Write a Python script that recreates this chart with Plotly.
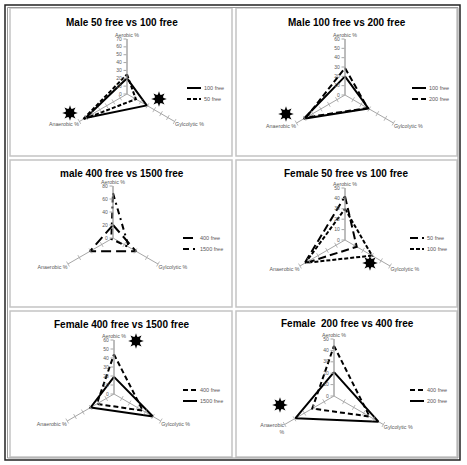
import plotly.graph_objects as go

W, H = 467, 465

categories = ["Aerobic %", "Gylcolytic %", "Anaerobic %"]

titles = [
    "Male 50 free vs 100 free",
    "Male 100 free vs 200 free",
    "male 400 free vs 1500 free",
    "Female 50 free vs 100 free",
    "Female 400 free vs 1500 free",
    "Female  200 free vs 400 free",
]

# series per panel: values in order [Aerobic, Glycolytic, Anaerobic]
p1_names = ["100 free", "50 free"]
p1_a = [20, 29, 61]
p1_b = [25, 13, 65]

p2_names = ["100 free", "200 free"]
p2_a = [20, 29, 51]
p2_b = [29, 28, 48]

p3_names = ["400 free", "1500 free"]
p3_a = [20, 41, 41]
p3_b = [69, 28, 3]

p4_names = ["50 free", "100 free"]
p4_a = [42, 13, 45]
p4_b = [30, 30, 44]

p5_names = ["400 free", "1500 free"]
p5_a = [44, 37, 22]
p5_b = [19, 50, 30]

p6_names = ["400 free", "200 free"]
p6_a = [44, 36, 22]
p6_b = [21, 45, 39]

axis_max = [70, 60, 80, 50, 60, 50]
axis_step = [10, 10, 20, 10, 10, 10]

series = [
    (p1_names, p1_a, p1_b),
    (p2_names, p2_a, p2_b),
    (p3_names, p3_a, p3_b),
    (p4_names, p4_a, p4_b),
    (p5_names, p5_a, p5_b),
    (p6_names, p6_a, p6_b),
]

dashes = [
    ("solid", "4px,2px"),
    ("solid", "6px,3px"),
    ("10px,5px", "6px,4px,2px,4px"),
    ("8px,4px", "4px,2px"),
    ("5px,3px", "solid"),
    ("5px,3px", "solid"),
]

centers = [(127, 94, 55), (345, 95, 56), (113, 238, 52),
           (345, 240, 52), (114, 394, 54), (334, 396, 57)]
title_pos = [(122, 23), (347, 23), (122, 173), (346, 173), (122, 324), (347, 323)]
legend_pos = [(187, 88), (412, 88), (183, 238), (410, 238), (183, 390), (410, 390)]
star_x = [70, 159, 286, 370, 136, 280]
star_y = [113, 99, 114, 263, 341, 405]
panels = [(10, 8, 232, 156), (236, 8, 457, 156),
          (10, 160, 232, 307), (236, 160, 457, 307),
          (10, 311, 232, 457), (236, 311, 457, 457)]


def px(x):
    return x / W


def py(y):
    return 1 - y / H


fig = go.Figure()
layout = dict(width=W, height=H, margin=dict(l=0, r=0, t=0, b=0),
              paper_bgcolor="white", plot_bgcolor="rgba(0,0,0,0)",
              showlegend=False)
shapes = []
annotations = []

grey = "#a6a6a6"
tgrey = "#595959"

for i in range(6):
    pid = "polar" if i == 0 else f"polar{i+1}"
    cx, cy, r = centers[i]
    names, va, vb = series[i]
    da, db = dashes[i]
    for nm, vals, d in ((names[0], va, da), (names[1], vb, db)):
        fig.add_trace(go.Scatterpolar(
            r=vals + [vals[0]], theta=categories + [categories[0]],
            mode="lines", name=nm, subplot=pid,
            line=dict(color="black", width=2, dash=d),
            hoverinfo="skip"))
    ticks = list(range(axis_step[i], axis_max[i] + 1, axis_step[i]))
    for cat, ang in ((categories[1], 30), (categories[2], -30)):
        fig.add_trace(go.Scatterpolar(
            r=ticks, theta=[cat] * len(ticks), mode="markers", subplot=pid,
            marker=dict(symbol="line-ns", size=4, angle=ang,
                        line=dict(color=grey, width=0.8)),
            hoverinfo="skip"))
    ticktext = list(categories)
    if i == 5:
        ticktext[2] = "Anaerobic<br>%"
    layout[pid] = dict(
        domain=dict(x=[px(cx - r), px(cx + r)], y=[py(cy + r), py(cy - r)]),
        bgcolor="rgba(0,0,0,0)",
        radialaxis=dict(range=[0, axis_max[i]], dtick=axis_step[i], angle=90,
                        tickangle=90, side="counterclockwise",
                        showgrid=False, showline=True, linecolor=grey,
                        linewidth=1, ticks="outside", ticklen=3,
                        tickcolor=grey, tickfont=dict(size=5, color=tgrey,
                                                      family="Liberation Sans")),
        angularaxis=dict(rotation=90, direction="clockwise",
                         categoryorder="array", categoryarray=categories,
                         tickmode="array", tickvals=categories, ticktext=ticktext,
                         showgrid=True, gridcolor=grey, gridwidth=1,
                         showline=False, ticks="",
                         tickfont=dict(size=5.3, color=tgrey,
                                       family="Liberation Sans")),
    )
    x0, y0, x1, y1 = panels[i]
    shapes.append(dict(type="rect", xref="paper", yref="paper", layer="below",
                       x0=px(x0), x1=px(x1), y0=py(y1), y1=py(y0),
                       line=dict(color="#c4c4c4", width=1.5)))
    tx, ty = title_pos[i]
    annotations.append(dict(x=px(tx), y=py(ty), xref="paper", yref="paper",
                            xanchor="center", yanchor="middle",
                            text="<b>" + titles[i] + "</b>", showarrow=False,
                            font=dict(size=10, color="black",
                                      family="Liberation Sans")))
    lx, ly = legend_pos[i]
    for k, (nm, d) in enumerate(((names[0], da), (names[1], db))):
        yy = ly + k * 11
        shapes.append(dict(type="line", xref="paper", yref="paper",
                           x0=px(lx), x1=px(lx + 14), y0=py(yy), y1=py(yy),
                           line=dict(color="black", width=2, dash=d)))
        annotations.append(dict(x=px(lx + 15), y=py(yy), xref="paper",
                                yref="paper", text=nm, showarrow=False,
                                xanchor="left", yanchor="middle",
                                font=dict(size=5.5, color=tgrey,
                                          family="Liberation Sans")))

# significance stars on a hidden full-page pixel axis
fig.add_trace(go.Scatter(x=star_x, y=star_y, mode="markers",
                         marker=dict(symbol="star-square", size=10, color="black",
                                     line=dict(width=0)),
                         hoverinfo="skip"))
fig.add_trace(go.Scatter(x=star_x, y=star_y, mode="markers",
                         marker=dict(symbol="star-square", size=10, color="black",
                                     angle=45, line=dict(width=0)),
                         hoverinfo="skip"))
fig.add_trace(go.Scatter(x=star_x, y=star_y, mode="markers",
                         marker=dict(symbol="circle", size=5, color="black"),
                         hoverinfo="skip"))
layout["xaxis"] = dict(domain=[0, 1], range=[0, W], visible=False, fixedrange=True)
layout["yaxis"] = dict(domain=[0, 1], range=[H, 0], visible=False, fixedrange=True)

shapes.append(dict(type="rect", xref="paper", yref="paper", layer="below",
                   x0=px(5), x1=px(460), y0=py(460), y1=py(5),
                   line=dict(color="#222222", width=1.5)))
shapes.append(dict(type="rect", xref="paper", yref="paper", layer="below",
                   x0=px(7.5), x1=px(458), y0=py(458), y1=py(7.5),
                   line=dict(color="#9a9a9a", width=1)))

layout["shapes"] = shapes
layout["annotations"] = annotations
fig.update_layout(**layout)
fig.write_html("out.html", config={"displayModeBar": False},
               post_script="document.body.style.margin='0';"
                           "document.body.style.overflow='hidden';")
